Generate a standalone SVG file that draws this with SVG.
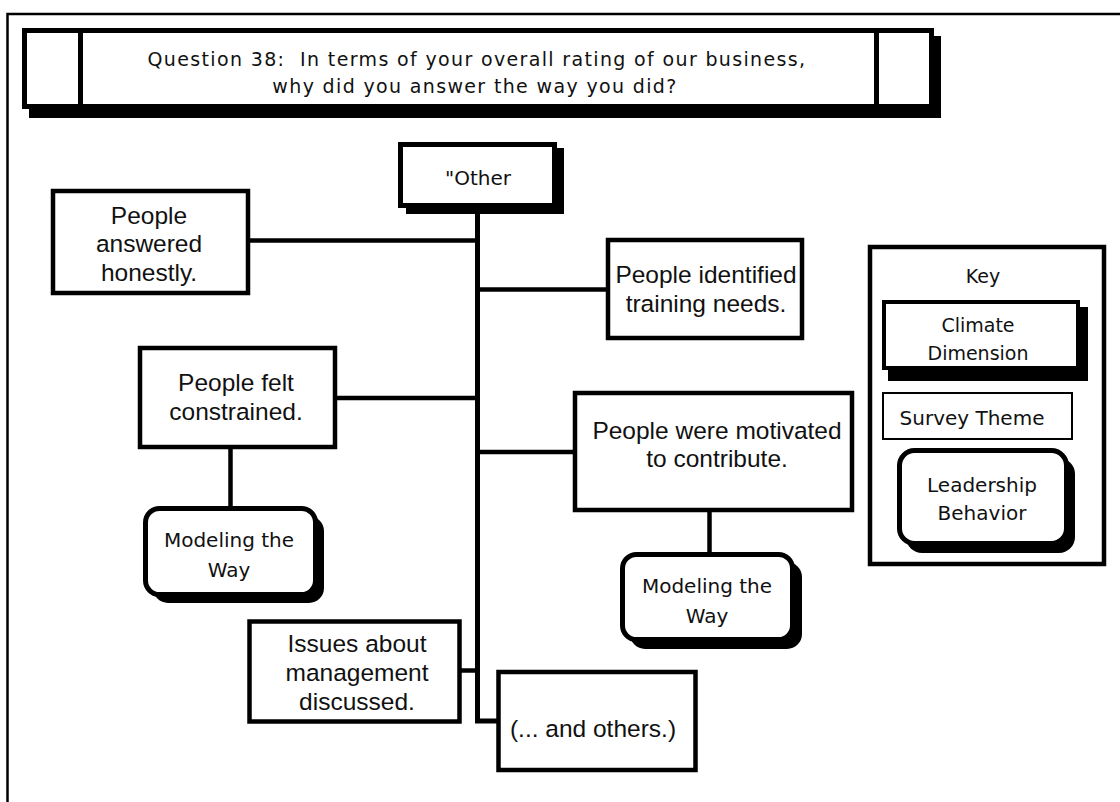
<svg xmlns="http://www.w3.org/2000/svg" width="1120" height="802" viewBox="0 0 1120 802">
  <style>
    .frame { fill: none; stroke: #000; stroke-width: 2.5; }
    .theme { fill: #fff; stroke: #000; stroke-width: 4.5; }
    .dim { fill: #fff; stroke: #000; stroke-width: 5; }
    .shadow { fill: #000; }
    .lead { fill: #fff; stroke: #000; stroke-width: 5; }
    .link { stroke: #000; stroke-width: 4.5; fill: none; }
    .trunk { stroke: #000; stroke-width: 5; fill: none; }
    .t-theme { font-family: "Liberation Sans", Arial, sans-serif; font-size: 24.5px; fill: #111; text-anchor: middle; }
    .t-geneva { font-family: "DejaVu Sans", Verdana, sans-serif; font-size: 20px; fill: #111; text-anchor: middle; }
    .t-title { font-family: "DejaVu Sans", Verdana, sans-serif; font-size: 19px; fill: #111; text-anchor: middle; letter-spacing: 1.35px; }
  </style>

  <!-- page frame (left and top edges only) -->
  <path class="frame" d="M7.5,802 V14 H1120"/>

  <!-- question banner -->
  <g id="banner">
    <rect class="shadow" x="29" y="36" width="912" height="82"/>
    <rect class="dim" x="24.5" y="30.5" width="907" height="76"/>
    <rect class="shadow" x="78" y="28" width="5" height="80"/>
    <rect class="shadow" x="874" y="28" width="5" height="80"/>
    <text class="t-title" x="477" y="66" xml:space="preserve">Question 38:  In terms of your overall rating of our business,</text>
    <text class="t-title" x="475" y="93">why did you answer the way you did?</text>
  </g>

  <!-- connectors -->
  <g id="connectors">
    <path class="trunk" d="M477.5,208 V721 H497"/>
    <path class="link" d="M250,240.5 H477"/>
    <path class="link" d="M477,289.5 H607"/>
    <path class="link" d="M337,398 H477"/>
    <path class="link" d="M477,452 H574"/>
    <path class="link" d="M461,670.5 H477"/>
    <path class="link" d="M230.5,448 V507"/>
    <path class="link" d="M709.5,511 V554"/>
  </g>

  <!-- climate dimension -->
  <g id="node-other">
    <rect class="shadow" x="406" y="148" width="158" height="66"/>
    <rect class="dim" x="400.5" y="144.5" width="154" height="61"/>
    <text class="t-geneva" x="478" y="185">"Other</text>
  </g>

  <!-- survey themes -->
  <g id="node-answered">
    <rect class="theme" x="53" y="191" width="195" height="102"/>
    <text class="t-theme" x="149" y="223.5">People</text>
    <text class="t-theme" x="149" y="252">answered</text>
    <text class="t-theme" x="149" y="280.5">honestly.</text>
  </g>

  <g id="node-identified">
    <rect class="theme" x="608" y="240" width="194" height="98"/>
    <text class="t-theme" x="706" y="283">People identified</text>
    <text class="t-theme" x="706" y="312">training needs.</text>
  </g>

  <g id="node-constrained">
    <rect class="theme" x="140" y="348" width="195" height="99"/>
    <text class="t-theme" x="236" y="391">People felt</text>
    <text class="t-theme" x="236" y="420">constrained.</text>
  </g>

  <g id="node-motivated">
    <rect class="theme" x="575" y="393" width="277" height="117"/>
    <text class="t-theme" x="717" y="439">People were motivated</text>
    <text class="t-theme" x="717" y="467">to contribute.</text>
  </g>

  <g id="node-issues">
    <rect class="theme" x="249.5" y="621.5" width="210" height="100"/>
    <text class="t-theme" x="357" y="652">Issues about</text>
    <text class="t-theme" x="357" y="681">management</text>
    <text class="t-theme" x="357" y="710">discussed.</text>
  </g>

  <g id="node-others">
    <rect class="theme" x="498.5" y="672" width="197" height="98"/>
    <text class="t-theme" x="593" y="737">(... and others.)</text>
  </g>

  <!-- leadership behaviors -->
  <g id="node-modeling-left">
    <rect class="shadow" x="153" y="516" width="171" height="87" rx="15"/>
    <rect class="lead" x="145.5" y="508.5" width="170" height="86" rx="14"/>
    <text class="t-geneva" x="229" y="547">Modeling the</text>
    <text class="t-geneva" x="229" y="577">Way</text>
  </g>

  <g id="node-modeling-right">
    <rect class="shadow" x="630" y="562" width="172" height="87" rx="15"/>
    <rect class="lead" x="622.5" y="554.5" width="170" height="85" rx="14"/>
    <text class="t-geneva" x="707" y="593">Modeling the</text>
    <text class="t-geneva" x="707" y="623">Way</text>
  </g>

  <!-- key -->
  <g id="key">
    <rect class="theme" x="870" y="247" width="234" height="317"/>
    <text class="t-geneva" x="983" y="283" style="font-size:19px">Key</text>
    <rect class="shadow" x="888" y="307" width="200" height="74"/>
    <rect class="dim" x="884" y="302" width="194" height="66" style="stroke-width:4"/>
    <text class="t-geneva" x="978" y="332" style="font-size:19px">Climate</text>
    <text class="t-geneva" x="978" y="360" style="font-size:19px">Dimension</text>
    <rect class="theme" x="883" y="393" width="189" height="46" style="stroke-width:2"/>
    <text class="t-geneva" x="972" y="425">Survey Theme</text>
    <rect class="shadow" x="906" y="458" width="169" height="95" rx="16"/>
    <rect class="lead" x="899.5" y="450.5" width="167" height="93" rx="15"/>
    <text class="t-geneva" x="982" y="492">Leadership</text>
    <text class="t-geneva" x="982" y="520">Behavior</text>
  </g>
</svg>
